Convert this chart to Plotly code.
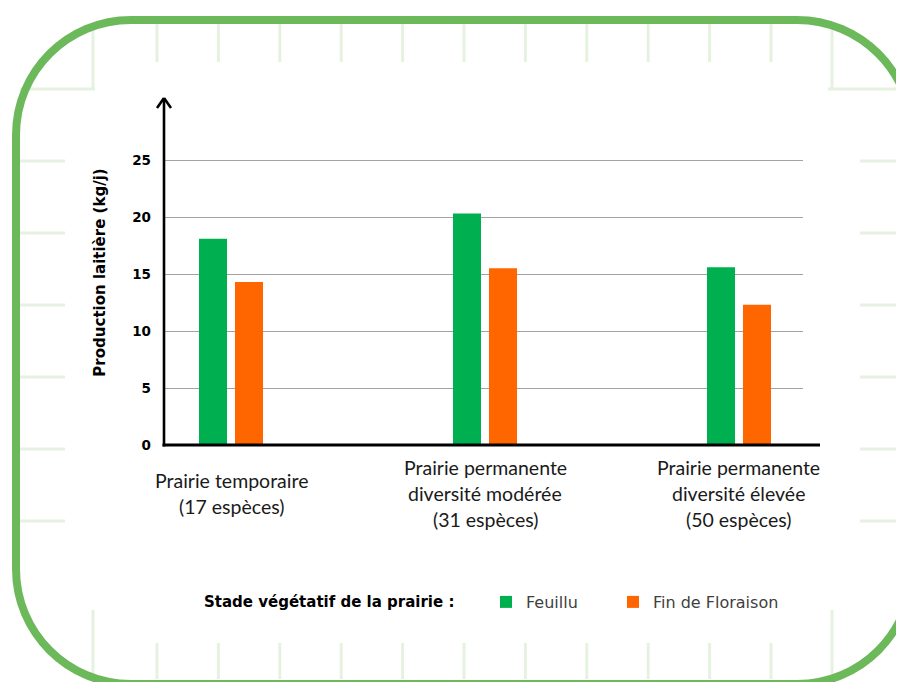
import plotly.graph_objects as go

# ---------------- data ----------------
categories = [
    "Prairie temporaire<br>(17 espèces)",
    "Prairie permanente<br>diversité modérée<br>(31 espèces)",
    "Prairie permanente<br>diversité élevée<br>(50 espèces)",
]
feuillu = [18.1, 20.3, 15.6]
fin_floraison = [14.3, 15.5, 12.3]
series_names = ["Feuillu", "Fin de Floraison"]
y_ticks = [0, 5, 10, 15, 20, 25]
y_title = "Production laitière (kg/j)"
legend_title = "Stade végétatif de la prairie :"

# ---------------- layout geometry (reference pixels) ----------------
OFF = 8                                  # page body margin
W, H = 904 - OFF, 682 - OFF
L, R, T, B = 164, 803, 100, 445          # plot area in reference pixels
PW, PH = R - L, B - T


def xp(px):
    return (px - L) / PW


def yp(py):
    return (B - py) / PH


GREEN = "#00b050"
ORANGE = "#ff6600"
DECO = "#e6f2e0"
BORDER = "#6cb95b"

xcat = list(range(len(categories)))

fig = go.Figure()
fig.add_trace(go.Bar(x=xcat, y=feuillu, name=series_names[0], legendwidth=82,
                     marker=dict(color=GREEN, line=dict(width=0))))
fig.add_trace(go.Bar(x=xcat, y=fin_floraison, name=series_names[1],
                     marker=dict(color=ORANGE, line=dict(width=0))))

shapes = []

# decorative rounded border (right side lies outside the picture)
bx0, by0, bx1, by1, r = 16, 20, 912, 684, 115
k = 0.5523 * r


def P(x, y):
    return f"{xp(x):.5f},{yp(y):.5f}"


path = (
    f"M {P(bx1, by1 - r)} "
    f"C {P(bx1, by1 - r + k)} {P(bx1 - r + k, by1)} {P(bx1 - r, by1)} "
    f"L {P(bx0 + r, by1)} "
    f"C {P(bx0 + r - k, by1)} {P(bx0, by1 - r + k)} {P(bx0, by1 - r)} "
    f"L {P(bx0, by0 + r)} "
    f"C {P(bx0, by0 + r - k)} {P(bx0 + r - k, by0)} {P(bx0 + r, by0)} "
    f"L {P(bx1 - r, by0)} "
    f"C {P(bx1 - r + k, by0)} {P(bx1, by0 + r - k)} {P(bx1, by0 + r)}"
)


def line(x0, y0, x1, y1, color, width, layer="below"):
    shapes.append(dict(type="line", xref="paper", yref="paper",
                       x0=xp(x0), y0=yp(y0), x1=xp(x1), y1=yp(y1),
                       line=dict(color=color, width=width), layer=layer))


# faint decorative ticks
tick_x = [157 + 61.4 * i for i in range(11)]
for tx in tick_x:
    line(tx, 24, tx, 62, DECO, 3)
    line(tx, 643, tx, 679, DECO, 3)
for side_x in (93, 832):
    line(side_x, 24, side_x, 90, DECO, 3)
    line(side_x, 610, side_x, 679, DECO, 3)
line(20, 89, 95, 89, DECO, 3)
line(828, 89, 904, 89, DECO, 3)
for ty in [161, 233, 305, 377, 449, 521]:
    line(20, ty, 65, ty, DECO, 3)
    line(860, ty, 904, ty, DECO, 3)

shapes.append(dict(type="path", xref="paper", yref="paper", path=path,
                   fillcolor="rgba(0,0,0,0)",
                   line=dict(color=BORDER, width=8), layer="below"))

# x axis line (extends past the gridlines)
line(162.5, 445, 820, 445, "black", 3, layer="above")
# y axis line with open arrow head
line(164, 446.5, 164, 98, "black", 2.6, layer="above")
line(157, 108, 164, 98, "black", 2.6, layer="above")
line(171, 108, 164, 98, "black", 2.6, layer="above")

# category labels (centred vertically like the original)
annotations = []
line_h = 26
center_y = 493
for i, cat in enumerate(categories):
    parts = cat.split("<br>")
    n = len(parts)
    for j, txt in enumerate(parts):
        py = center_y + (j - (n - 1) / 2) * line_h
        annotations.append(dict(
            x=xcat[i], xref="x", y=yp(py), yref="paper",
            text=txt, showarrow=False, xanchor="center", yanchor="middle",
            font=dict(family="Lato", size=19.5, color="#1a1a1a")))

# legend title, placed left of the legend entries
annotations.append(dict(
    x=xp(202), xref="paper", y=yp(602), yref="paper", text=legend_title,
    showarrow=False, xanchor="left", yanchor="middle",
    font=dict(family="DejaVu Sans", size=15, color="black", weight="bold")))

fig.update_layout(
    width=W, height=H,
    margin=dict(l=L - OFF, r=W - (R - OFF), t=T - OFF, b=H - (B - OFF), pad=0),
    paper_bgcolor="white", plot_bgcolor="white",
    barmode="group", bargap=0.7165, bargroupgap=0.222,
    showlegend=True,
    legend=dict(
        orientation="h", x=xp(486), xanchor="left", y=yp(602), yanchor="middle",
        font=dict(family="DejaVu Sans", size=16, color="#404040"),
        bgcolor="rgba(0,0,0,0)", traceorder="normal",
    ),
    xaxis=dict(
        range=[-0.2638, 2.2520], showticklabels=False, showgrid=False,
        zeroline=False, showline=False, ticks="", fixedrange=True,
    ),
    yaxis=dict(
        range=[0, PH / 11.4], tickvals=y_ticks, ticktext=[str(v) for v in y_ticks],
        showgrid=True, gridcolor="#a3a3a3", gridwidth=1.3,
        zeroline=False, showline=False, ticks="", ticklabelstandoff=12,
        tickfont=dict(family="DejaVu Sans", size=13.5, color="black", weight="bold"),
        title=dict(text=y_title, standoff=22,
                   font=dict(family="DejaVu Sans", size=15, color="black", weight="bold")),
    ),
    shapes=shapes,
    annotations=annotations,
)

fig.write_html("out.html", config={"displayModeBar": False})
